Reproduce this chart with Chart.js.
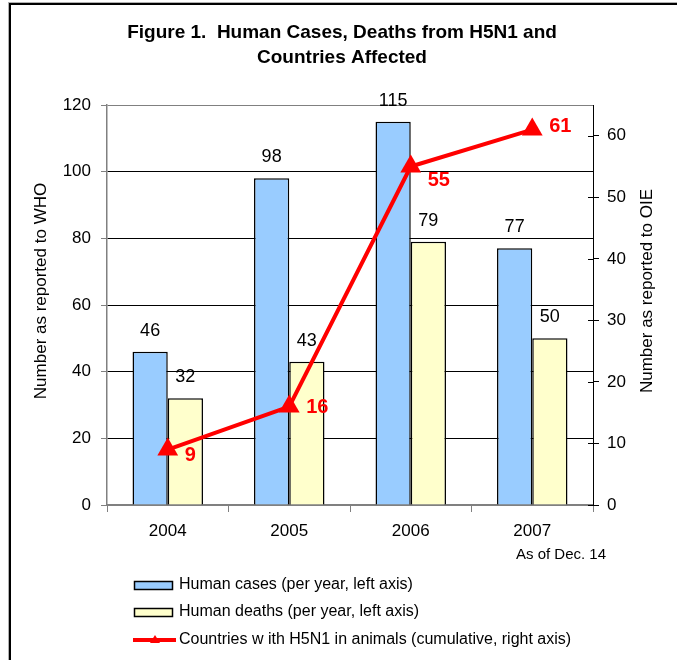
<!DOCTYPE html>
<html>
<head>
<meta charset="utf-8">
<script src="https://cdn.jsdelivr.net/npm/chart.js@4.4.0/dist/chart.umd.min.js"></script>
<style>
  html, body { margin: 0; padding: 0; background: #fff; }
  #wrap { width: 677px; height: 660px; position: relative; }
</style>
</head>
<body>
<div id="wrap"><canvas id="grafico" width="677" height="660"></canvas></div>
<script>
const anos = ['2004', '2005', '2006', '2007'];
const casosHumanos = [46, 98, 115, 77];
const mortesHumanas = [32, 43, 79, 50];
const paisesAfetados = [9, 16, 55, 61];
const ticksEsquerda = [0, 20, 40, 60, 80, 100, 120];
const ticksDireita = [0, 10, 20, 30, 40, 50, 60];

const FONTE = '"Liberation Sans", Arial, sans-serif';
const AZUL = '#99CCFF';
const AMARELO = '#FFFFCC';
const VERMELHO = '#FF0000';

// deslocamento vertical dos rotulos da linha (px)
const deslocRotulo = [6, 1, 14, -3];

// desenha titulo, legendas, rotulos e moldura
const extras = {
    id: 'extras',
    afterDraw(chart) {
        const c = chart.ctx;
        const area = chart.chartArea;
        c.save();

        // moldura
        c.fillStyle = '#b0b0b0';
        c.fillRect(8, 2, 677, 1);
        c.fillRect(8, 2, 1, 660);
        c.fillStyle = '#000';
        c.fillRect(9, 3, 677, 2);
        c.fillRect(9, 3, 2, 660);

        // titulo
        c.fillStyle = '#000';
        c.textAlign = 'center';
        c.textBaseline = 'middle';
        c.font = 'bold 19px ' + FONTE;
        c.fillText('Figure 1.  Human Cases, Deaths from H5N1 and', 342, 33);
        c.fillText('Countries Affected', 342, 58);

        // titulos dos eixos
        c.font = '17px ' + FONTE;
        c.save();
        c.translate(41, 291);
        c.rotate(-Math.PI / 2);
        c.fillText('Number as reported to WHO', 0, 0);
        c.restore();
        c.save();
        c.translate(647, 291);
        c.rotate(-Math.PI / 2);
        c.fillText('Number as reported to OIE', 0, 0);
        c.restore();

        // marcas internas do eixo direito
        const y2 = chart.scales.y2;
        c.strokeStyle = '#000';
        c.lineWidth = 1;
        y2.ticks.forEach(t => {
            const y = Math.round(y2.getPixelForValue(t.value)) + 0.5;
            c.beginPath();
            c.moveTo(area.right - 5, y);
            c.lineTo(area.right, y);
            c.stroke();
        });

        // rotulos das barras
        c.font = '18px ' + FONTE;
        c.fillStyle = '#000';
        [0, 1].forEach(i => {
            chart.getDatasetMeta(i).data.forEach((bar, j) => {
                c.fillText(String(chart.data.datasets[i].data[j]), bar.x, bar.y - 21);
            });
        });

        // rotulos da linha
        c.font = 'bold 20px ' + FONTE;
        c.fillStyle = VERMELHO;
        c.textAlign = 'left';
        chart.getDatasetMeta(2).data.forEach((pt, j) => {
            c.fillText(String(paisesAfetados[j]), pt.x + 17, pt.y + deslocRotulo[j]);
        });

        // nota
        c.font = '15px ' + FONTE;
        c.fillStyle = '#000';
        c.textAlign = 'left';
        c.fillText('As of Dec. 14', 516, 555);

        // legenda
        const itens = [
            { tipo: 'barra', cor: AZUL, texto: 'Human cases (per year, left axis)', y: 585 },
            { tipo: 'barra', cor: AMARELO, texto: 'Human deaths (per year, left axis)', y: 612 },
            { tipo: 'linha', cor: VERMELHO, texto: 'Countries w ith H5N1 in animals (cumulative, right axis)', y: 640 }
        ];
        c.font = '16px ' + FONTE;
        itens.forEach(it => {
            if (it.tipo === 'barra') {
                c.fillStyle = it.cor;
                c.fillRect(134, it.y - 4, 39, 8);
                c.strokeStyle = '#000';
                c.lineWidth = 1.5;
                c.strokeRect(134.5, it.y - 3.5, 38, 8);
            } else {
                c.strokeStyle = it.cor;
                c.lineWidth = 4;
                c.beginPath();
                c.moveTo(133, it.y);
                c.lineTo(176, it.y);
                c.stroke();
                c.fillStyle = it.cor;
                c.beginPath();
                c.moveTo(155, it.y - 5);
                c.lineTo(160, it.y + 3);
                c.lineTo(150, it.y + 3);
                c.closePath();
                c.fill();
            }
            c.fillStyle = '#000';
            c.textAlign = 'left';
            c.fillText(it.texto, 179, it.y);
        });

        c.restore();
    }
};

const config = {
    type: 'bar',
    data: {
        labels: anos,
        datasets: [{
                label: 'Human cases (per year, left axis)',
                data: casosHumanos,
                backgroundColor: AZUL,
                borderColor: '#000',
                borderWidth: 1.5,
                yAxisID: 'y',
                categoryPercentage: 0.58,
                barPercentage: 1,
                order: 2
            },
            {
                label: 'Human deaths (per year, left axis)',
                data: mortesHumanas,
                backgroundColor: AMARELO,
                borderColor: '#000',
                borderWidth: 1.5,
                yAxisID: 'y',
                categoryPercentage: 0.58,
                barPercentage: 1,
                order: 2
            },
            {
                type: 'line',
                label: 'Countries with H5N1 in animals (cumulative, right axis)',
                data: paisesAfetados,
                borderColor: VERMELHO,
                backgroundColor: VERMELHO,
                borderWidth: 4,
                pointStyle: 'triangle',
                pointRadius: 12,
                pointBorderWidth: 0,
                yAxisID: 'y2',
                tension: 0,
                order: 1
            }
        ]
    },
    options: {
        responsive: false,
        animation: false,
        layout: {
            padding: { top: 105, left: 0, right: 0, bottom: 0 }
        },
        plugins: {
            legend: { display: false },
            tooltip: { enabled: false }
        },
        scales: {
            x: {
                afterFit: (s) => { s.height = 155; },
                grid: {
                    offset: true,
                    drawOnChartArea: false,
                    tickLength: 7,
                    color: '#808080'
                },
                border: { color: '#808080', width: 2 },
                ticks: {
                    color: '#000',
                    padding: 9,
                    font: { family: FONTE, size: 17 }
                }
            },
            y: {
                position: 'left',
                min: 0,
                max: 120,
                afterFit: (s) => { s.width = 107; },
                afterBuildTicks: (s) => { s.ticks = ticksEsquerda.map(v => ({ value: v })); },
                grid: {
                    color: (ctx) => (ctx.tick && (ctx.tick.value === 0 || ctx.tick.value === 120)) ? '#808080' : '#000',
                    tickColor: '#808080',
                    tickLength: 6,
                    lineWidth: 1
                },
                border: { color: '#808080', width: 1.5 },
                ticks: {
                    color: '#000',
                    padding: 10,
                    font: { family: FONTE, size: 17 }
                }
            },
            y2: {
                position: 'right',
                min: 0,
                max: 65,
                afterFit: (s) => { s.width = 84; },
                afterBuildTicks: (s) => { s.ticks = ticksDireita.map(v => ({ value: v })); },
                grid: {
                    drawOnChartArea: false,
                    color: '#000',
                    tickLength: 6
                },
                border: { color: '#000', width: 1 },
                ticks: {
                    color: '#000',
                    padding: 8,
                    font: { family: FONTE, size: 17 }
                }
            }
        }
    },
    plugins: [extras]
};

const grafico = new Chart(document.getElementById('grafico'), config);
</script>
</body>
</html>
